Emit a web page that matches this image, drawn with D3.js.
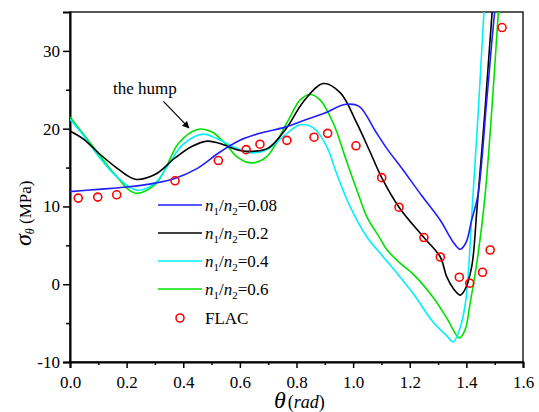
<!DOCTYPE html>
<html><head><meta charset="utf-8">
<script src="https://cdn.jsdelivr.net/npm/d3@7"></script>
<style>body{margin:0;background:#fff}svg{display:block}text{font-family:"Liberation Serif","Times New Roman",serif;fill:#000}</style>
</head><body><svg id="c" width="539" height="412"></svg>
<script>
// ---- data ----
const seriesNames = ["n1/n2=0.08","n1/n2=0.2","n1/n2=0.4","n1/n2=0.6"];
const ratioLabels = ["0.08","0.2","0.4","0.6"];
const seriesColors = ["#1f1fff","#000000","#00f0ff","#00e000"];

const blueTheta = [0,0.1,0.2,0.3,0.37,0.45,0.53,0.6,0.67,0.76,0.83,0.9,0.97,1.02,1.08,1.12,1.17,1.24,1.31,1.35,1.378,1.398,1.419,1.441,1.472,1.50,1.53];
const blueVal   = [11.9,12.2,12.5,13.0,13.6,14.9,17.0,18.5,19.4,20.2,21.1,22.0,23.1,22.9,19.6,17.4,15.0,11.5,8.1,5.6,4.5,5.3,8.3,11.5,23.7,35,44];

const blackTheta = [0,0.05,0.1,0.16,0.23,0.3,0.37,0.43,0.485,0.53,0.6,0.65,0.7,0.765,0.825,0.895,0.955,1.013,1.06,1.101,1.162,1.25,1.308,1.33,1.355,1.378,1.395,1.419,1.437,1.465,1.491,1.52];
const blackVal   = [19.7,18.6,16.9,15.1,13.5,14.1,16.2,17.7,18.4,18.1,17.2,17.1,17.5,20.1,23.5,25.8,24.6,20.7,17.0,13.7,9.9,6.0,3.5,1.0,-0.6,-1.4,-0.7,2.3,9.5,22,35,47];

const cyanTheta = [0,0.05,0.1,0.16,0.235,0.3,0.35,0.4,0.47,0.52,0.58,0.636,0.695,0.753,0.813,0.86,0.907,0.942,0.989,1.048,1.095,1.13,1.212,1.283,1.33,1.354,1.378,1.395,1.405,1.42,1.44,1.462,1.48];
const cyanVal   = [21.2,19.0,16.5,14.0,12.1,13.0,15.5,18.0,19.3,18.7,17.6,16.9,17.3,19.0,20.5,20.1,17.7,14.2,10.0,6.1,4.0,2.5,-1.2,-4.9,-6.6,-7.4,-5.6,-2.8,0.5,9.5,21,35,46];

const greenTheta = [0,0.077,0.159,0.23,0.3,0.335,0.383,0.45,0.5,0.548,0.589,0.636,0.695,0.765,0.813,0.848,0.883,0.93,0.977,1.024,1.048,1.095,1.118,1.16,1.212,1.283,1.33,1.375,1.395,1.413,1.44,1.465,1.49,1.513,1.53];
const greenVal   = [21.5,17.9,14.1,11.7,12.8,14.7,18.1,19.9,19.6,18.1,16.4,15.6,16.4,20.7,23.7,24.4,23.7,20.7,15.8,11.0,8.7,5.9,4.5,2.9,1.3,-1.7,-4.3,-6.9,-5.9,-2.5,3.5,11,22.5,35,43];

const flacTheta = [0.029,0.098,0.165,0.371,0.524,0.622,0.671,0.766,0.862,0.910,1.010,1.101,1.162,1.250,1.308,1.375,1.412,1.457,1.484,1.526];
const flacVal   = [11.07,11.2,11.5,13.3,15.9,17.3,18.0,18.5,18.9,19.4,17.8,13.7,9.9,6.0,3.5,0.9,0.13,1.54,4.4,33.0];

const xTicks = [0,0.2,0.4,0.6,0.8,1.0,1.2,1.4,1.6];
const xMinor = [0.1,0.3,0.5,0.7,0.9,1.1,1.3,1.5];
const yTicks = [-10,0,10,20,30];
const yMinor = [-5,5,15,25];

// ---- layout ----
const L=70,R=523,T=12,B=362;
const svg=d3.select("#c");
const x=d3.scaleLinear().domain([0,1.6]).range([L,R]);
const y=d3.scaleLinear().domain([-10,35]).range([B,T]);

svg.append("defs").append("clipPath").attr("id","clip").append("rect")
  .attr("x",L).attr("y",T).attr("width",R-L).attr("height",B-T);

// frame
svg.append("rect").attr("x",L).attr("y",T).attr("width",R-L).attr("height",B-T)
  .attr("fill","none").attr("stroke","#000").attr("stroke-width",1.3);

// axes
const gx=svg.append("g").attr("transform",`translate(0,${B})`)
  .call(d3.axisBottom(x).tickValues(xTicks).tickSize(6).tickFormat(d3.format(".1f")));
svg.append("g").attr("transform",`translate(0,${B})`)
  .call(d3.axisBottom(x).tickValues(xMinor).tickSize(3).tickFormat(""))
  .select(".domain").remove();
const gy=svg.append("g").attr("transform",`translate(${L},0)`)
  .call(d3.axisLeft(y).tickValues(yTicks).tickSize(7).tickFormat(d=>String(d)));
svg.append("g").attr("transform",`translate(${L},0)`)
  .call(d3.axisLeft(y).tickValues(yMinor).tickSize(4).tickFormat(""))
  .select(".domain").remove();
svg.selectAll(".domain").attr("stroke-width",2);
svg.selectAll(".tick line").attr("stroke-width",1.5);
svg.selectAll("g").attr("font-family",null);
gx.selectAll("text").attr("font-size",17).attr("y",14).attr("dy","0.71em");
gy.selectAll("text").attr("font-size",17).attr("x",-10).attr("dy","0.32em");

// series lines
const allTheta=[blueTheta,blackTheta,cyanTheta,greenTheta];
const allVal=[blueVal,blackVal,cyanVal,greenVal];
const line=d3.line().x(d=>x(d[0])).y(d=>y(d[1])).curve(d3.curveCatmullRom.alpha(0.5));
const plot=svg.append("g").attr("clip-path","url(#clip)");
[3,2,1,0].forEach(i=>{
  const pts=allTheta[i].map((t,j)=>[t,allVal[i][j]]);
  plot.append("path").attr("d",line(pts)).attr("fill","none")
    .attr("stroke",seriesColors[i]).attr("stroke-width",1.6);
});
// FLAC points
plot.selectAll("circle.f").data(flacTheta.map((t,j)=>[t,flacVal[j]])).enter()
  .append("circle").attr("cx",d=>x(d[0])).attr("cy",d=>y(d[1])).attr("r",4)
  .attr("fill","none").attr("stroke","#ff0000").attr("stroke-width",1.6);

// annotation
svg.append("defs").append("marker").attr("id","ah").attr("viewBox","0 0 10 10")
  .attr("refX",9).attr("refY",5).attr("markerWidth",10).attr("markerHeight",7)
  .attr("markerUnits","userSpaceOnUse").attr("orient","auto")
  .append("path").attr("d","M0,0L10,5L0,10Z").attr("fill","#000");
svg.append("text").attr("x",113).attr("y",94).attr("font-size",17).text("the hump");
svg.append("line").attr("x1",x(0.33)).attr("y1",y(23.5)).attr("x2",x(0.42)).attr("y2",y(20.1))
  .attr("stroke","#000").attr("stroke-width",1.2).attr("marker-end","url(#ah)");

// legend
const lg=svg.append("g");
const ly=[205,233,261,289];
seriesNames.forEach((s,i)=>{
  lg.append("line").attr("x1",158).attr("x2",202).attr("y1",ly[i]).attr("y2",ly[i])
    .attr("stroke",seriesColors[i]).attr("stroke-width",1.6);
  const t=lg.append("text").attr("x",205).attr("y",ly[i]+6).attr("font-size",17);
  t.append("tspan").attr("font-style","italic").text("n");
  t.append("tspan").attr("font-size",11).attr("dy",4).text("1");
  t.append("tspan").attr("dy",-4).text("/");
  t.append("tspan").attr("font-style","italic").text("n");
  t.append("tspan").attr("font-size",11).attr("dy",4).text("2");
  t.append("tspan").attr("dy",-4).text("="+ratioLabels[i]);
});
lg.append("circle").attr("cx",180).attr("cy",318).attr("r",4).attr("fill","none")
  .attr("stroke","#ff0000").attr("stroke-width",1.6);
lg.append("text").attr("x",205).attr("y",324).attr("font-size",17).text("FLAC");

// axis titles
const xt=svg.append("text").attr("x",274).attr("y",408);
xt.append("tspan").attr("font-style","italic").attr("font-size",24).text("θ");
xt.append("tspan").attr("font-size",18).attr("dx",2).text("(");
xt.append("tspan").attr("font-size",18).attr("font-style","italic").text("rad");
xt.append("tspan").attr("font-size",18).text(")");

const yt=svg.append("text").attr("transform","translate(31,246) rotate(-90)");
yt.append("tspan").attr("font-style","italic").attr("font-size",24).text("σ");
yt.append("tspan").attr("font-style","italic").attr("font-size",12).attr("dy",3).text("θ");
yt.append("tspan").attr("font-size",17).attr("dy",-3).text(" (MPa)");
</script></body></html>
